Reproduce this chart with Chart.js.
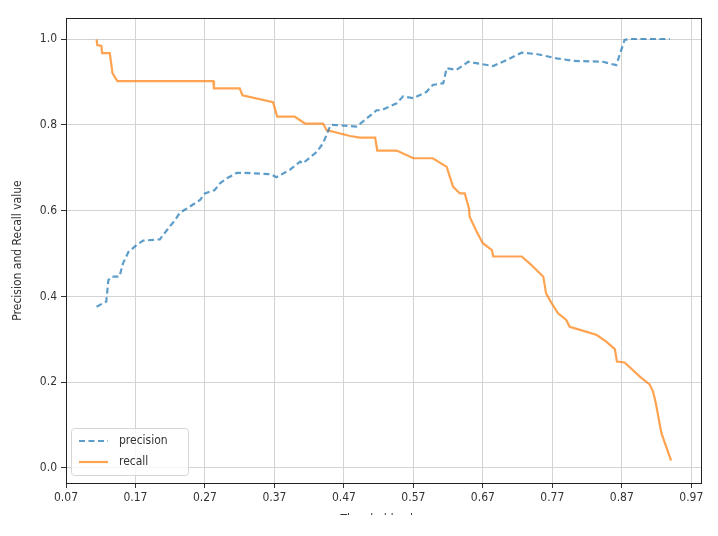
<!DOCTYPE html>
<html>
<head>
<meta charset="utf-8">
<script src="https://cdn.jsdelivr.net/npm/chart.js@4/dist/chart.umd.min.js"></script>
<style>
  html, body { margin: 0; padding: 0; background: #fff; }
  #wrap { width: 718px; height: 515px; overflow: hidden; }
</style>
</head>
<body>
<div id="wrap"><canvas id="prChart" width="718" height="545"></canvas></div>
<script>
// ====== DATA ======
const precisionX = [0.114,0.128,0.131,0.136,0.147,0.152,0.160,0.172,0.181,0.205,0.216,0.227,0.234,0.248,0.263,0.270,0.284,0.292,0.301,0.316,0.325,0.364,0.373,0.392,0.407,0.411,0.431,0.440,0.450,0.452,0.488,0.503,0.517,0.524,0.546,0.555,0.570,0.589,0.598,0.613,0.618,0.632,0.649,0.685,0.704,0.726,0.747,0.776,0.800,0.843,0.862,0.874,0.881,0.939];
const precisionY = [0.376,0.388,0.438,0.446,0.446,0.477,0.504,0.520,0.530,0.533,0.556,0.578,0.595,0.609,0.625,0.640,0.648,0.664,0.675,0.688,0.688,0.685,0.678,0.695,0.714,0.710,0.737,0.757,0.796,0.800,0.796,0.815,0.834,0.834,0.850,0.866,0.862,0.877,0.893,0.897,0.932,0.928,0.947,0.937,0.951,0.968,0.965,0.955,0.949,0.947,0.939,0.998,1.0,1.0];

const recallX = [0.114,0.115,0.121,0.122,0.133,0.137,0.144,0.282,0.283,0.320,0.324,0.368,0.374,0.399,0.414,0.440,0.445,0.479,0.493,0.515,0.518,0.546,0.570,0.598,0.618,0.627,0.637,0.644,0.650,0.651,0.661,0.670,0.683,0.685,0.726,0.740,0.757,0.761,0.769,0.778,0.790,0.795,0.810,0.834,0.848,0.860,0.863,0.874,0.896,0.910,0.915,0.919,0.927,0.941];
const recallY = [0.999,0.986,0.984,0.967,0.967,0.920,0.902,0.902,0.885,0.885,0.869,0.853,0.819,0.819,0.803,0.803,0.788,0.774,0.770,0.770,0.740,0.740,0.722,0.722,0.702,0.656,0.640,0.640,0.605,0.586,0.551,0.524,0.508,0.493,0.493,0.473,0.446,0.407,0.384,0.361,0.345,0.329,0.322,0.310,0.294,0.277,0.248,0.246,0.213,0.195,0.178,0.151,0.081,0.017];

const xTicks = [0.07,0.17,0.27,0.37,0.47,0.57,0.67,0.77,0.87,0.97];
const yTicks = [0.0,0.2,0.4,0.6,0.8,1.0];

const FONT = "'DejaVu Sans Condensed', 'DejaVu Sans', sans-serif";
const BLUE = "rgba(31,119,180,0.72)";
const ORANGE = "rgba(255,127,14,0.72)";

const toPoints = (xs, ys) => xs.map((x, i) => ({ x: x, y: ys[i] }));

// frame + legend inside plot (matplotlib style)
const framePlugin = {
  id: "frame",
  afterDraw(chart) {
    const { ctx, chartArea: a } = chart;
    ctx.save();
    ctx.strokeStyle = "#222";
    ctx.lineWidth = 1;
    ctx.strokeRect(a.left + 0.5, a.top + 0.5, a.right - a.left, a.bottom - a.top);

    // legend box
    const bx = a.left + 5, by = a.bottom - 55, bw = 117, bh = 47;
    ctx.fillStyle = "rgba(255,255,255,0.8)";
    ctx.strokeStyle = "#d6d6d6";
    ctx.beginPath();
    ctx.roundRect(bx + 0.5, by + 0.5, bw, bh, 3);
    ctx.fill();
    ctx.stroke();

    ctx.font = "12px " + FONT;
    ctx.textBaseline = "middle";
    chart.data.datasets.forEach((ds, i) => {
      const ly = by + 13 + i * 21;
      ctx.strokeStyle = ds.borderColor;
      ctx.lineWidth = ds.borderWidth;
      ctx.setLineDash(ds.borderDash || []);
      ctx.beginPath();
      ctx.moveTo(bx + 8, ly);
      ctx.lineTo(bx + 37, ly);
      ctx.stroke();
      ctx.setLineDash([]);
      ctx.fillStyle = "#333";
      ctx.fillText(ds.label, bx + 48, ly);
    });
    ctx.restore();
  }
};

const ctx = document.getElementById("prChart").getContext("2d");

new Chart(ctx, {
  type: "scatter",
  data: {
    datasets: [
      {
        label: "precision",
        data: toPoints(precisionX, precisionY),
        showLine: true,
        borderColor: BLUE,
        backgroundColor: BLUE,
        borderWidth: 2.2,
        borderDash: [6, 3.5],
        pointRadius: 0,
        tension: 0
      },
      {
        label: "recall",
        data: toPoints(recallX, recallY),
        showLine: true,
        borderColor: ORANGE,
        backgroundColor: ORANGE,
        borderWidth: 2.2,
        pointRadius: 0,
        tension: 0
      }
    ]
  },
  options: {
    responsive: false,
    animation: false,
    layout: { padding: { top: 18, right: 17, left: 0, bottom: 14 } },
    plugins: {
      legend: { display: false },
      tooltip: { enabled: false }
    },
    scales: {
      x: {
        type: "linear",
        min: 0.07,
        max: 0.984,
        afterBuildTicks: axis => { axis.ticks = xTicks.map(v => ({ value: v })); },
        afterFit: axis => { axis.height = 48; },
        ticks: {
          font: { family: FONT, size: 12 },
          color: "#333",
          padding: 3,
          callback: v => v.toFixed(2)
        },
        grid: { color: "#d3d3d3", lineWidth: 1, tickColor: "#333", tickLength: 5 },
        border: { color: "#222", width: 1 },
        title: {
          display: true,
          text: "Threshold value",
          font: { family: FONT, size: 12 },
          color: "#333",
          padding: { top: 0, bottom: 4 }
        }
      },
      y: {
        min: -0.035,
        max: 1.049,
        afterBuildTicks: axis => { axis.ticks = yTicks.map(v => ({ value: v })); },
        afterFit: axis => { axis.width = 66; },
        ticks: {
          font: { family: FONT, size: 12 },
          color: "#333",
          padding: 4,
          callback: v => v.toFixed(1)
        },
        grid: { color: "#d3d3d3", lineWidth: 1, tickColor: "#333", tickLength: 5 },
        border: { color: "#222", width: 1 },
        title: {
          display: true,
          text: "Precision and Recall value",
          font: { family: FONT, size: 12 },
          color: "#333",
          padding: { top: 11, bottom: 4 }
        }
      }
    }
  },
  plugins: [framePlugin]
});
</script>
</body>
</html>
